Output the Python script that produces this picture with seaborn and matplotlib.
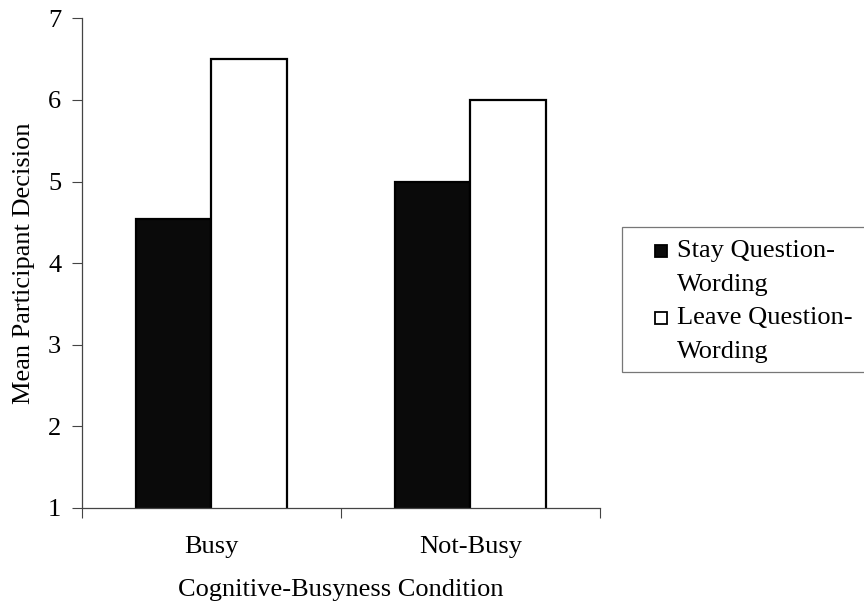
import matplotlib
matplotlib.use("Agg")
import matplotlib.pyplot as plt
import seaborn as sns
import pandas as pd
from matplotlib.patches import Rectangle

conditions = ["Busy", "Not-Busy"]
wordings = ["Stay Question-Wording", "Leave Question-Wording"]
legend_lines = [["Stay Question-", "Wording"], ["Leave Question-", "Wording"]]
stay_means = [4.54, 5.0]
leave_means = [6.5, 6.0]
y_ticks = [1, 2, 3, 4, 5, 6, 7]

df = pd.DataFrame({
    "Condition": conditions * 2,
    "Wording": [wordings[0]] * 2 + [wordings[1]] * 2,
    "Mean": stay_means + leave_means,
})

sns.set_theme(style="white")
plt.rcParams["font.family"] = ["Liberation Serif", "DejaVu Serif"]
plt.rcParams["text.color"] = "black"
plt.rcParams["axes.labelcolor"] = "black"
plt.rcParams["xtick.labelcolor"] = "black"
plt.rcParams["ytick.labelcolor"] = "black"

FS = 19
fig = plt.figure(figsize=(8.64, 6.11), dpi=100)
ax = fig.add_axes([0.0949, 0.1686, 0.5995, 0.8015])

fills = ["#0a0a0a", "#ffffff"]
sns.barplot(data=df, x="Condition", y="Mean", hue="Wording",
            palette=fills, width=0.58, edgecolor="black", linewidth=1.6,
            saturation=1, ax=ax, legend=False)

ax.set_ylim(1, 7)
ax.set_xlim(-0.5, 1.5)
ax.set_yticks(y_ticks)
ax.set_yticklabels([str(v) for v in y_ticks], fontsize=FS)
ax.tick_params(axis="y", direction="out", length=7, width=0.8, color="#444444",
               left=True, pad=8)
ax.set_xticks([0, 1])
ax.set_xticklabels(conditions, fontsize=FS)
ax.tick_params(axis="x", which="major", length=0, pad=20)
ax.set_xticks([-0.5, 0.5, 1.5], minor=True)
ax.tick_params(axis="x", which="minor", direction="out", length=7, width=0.8,
               color="#444444", bottom=True)

for side in ["top", "right"]:
    ax.spines[side].set_visible(False)
for side in ["left", "bottom"]:
    ax.spines[side].set_color("#444444")
    ax.spines[side].set_linewidth(0.9)

ax.set_xlabel("Cognitive-Busyness Condition", fontsize=FS, labelpad=15)
ax.set_ylabel("Mean Participant Decision", fontsize=FS, labelpad=9)

# Legend box, drawn in figure coordinates so each label can wrap on two lines
W, H = 864.0, 611.0
def fx(px):
    return px / W
def fy(py):
    return 1 - py / H

fig.patches.append(Rectangle((fx(622), fy(372)), fx(900) - fx(622),
                             fy(227) - fy(372), transform=fig.transFigure,
                             facecolor="white", edgecolor="#777777",
                             linewidth=0.9, zorder=1))
entry_tops = [251, 318]
for fill, lines, top in zip(fills, legend_lines, entry_tops):
    fig.patches.append(Rectangle((fx(655), fy(top + 6)), fx(667) - fx(655),
                                 fy(top - 6) - fy(top + 6),
                                 transform=fig.transFigure, facecolor=fill,
                                 edgecolor="black", linewidth=1.3, zorder=2))
    fig.text(fx(677), fy(top), lines[0], fontsize=FS, va="center",
             ha="left", zorder=3)
    fig.text(fx(677), fy(top + 34), lines[1], fontsize=FS, va="center",
             ha="left", zorder=3)

fig.savefig("out.png", dpi=100)
